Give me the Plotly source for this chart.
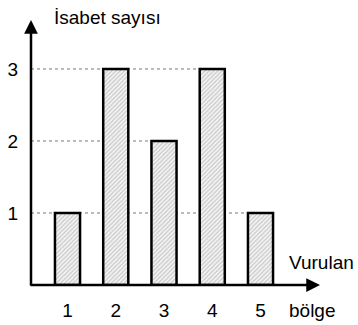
import plotly.graph_objects as go

regions = [1, 2, 3, 4, 5]
hits = [1, 3, 2, 3, 1]
y_ticks = [1, 2, 3]
y_title = "İsabet sayısı"
x_title_1 = "Vurulan"
x_title_2 = "bölge"

BAR_W = 0.52
FONT = "Liberation Sans, Arial, sans-serif"
FS = 19
X_RANGE = [0.2435, 6.233]
Y_RANGE = [0, 3.68]

fig = go.Figure()
fig.add_trace(go.Bar(
    x=regions, y=hits, width=BAR_W,
    marker=dict(color="white",
                line=dict(color="black", width=2.5),
                pattern=dict(shape="/", fgcolor="#9a9a9a", bgcolor="#f4f4f4",
                             size=3, solidity=0.4)),
    hoverinfo="skip", showlegend=False,
))

# dotted guide lines from the y axis to the last bar having that value
for lv in y_ticks:
    idx = max(i for i, v in enumerate(hits) if v == lv)
    fig.add_shape(type="line", layer="below", x0=X_RANGE[0], x1=regions[idx] - BAR_W / 2,
                  y0=lv, y1=lv, line=dict(color="#777777", width=1, dash="dot"))

# axis arrows
fig.add_annotation(x=1.0, y=0, xref="paper", yref="y", ax=-291, ay=0,
                   showarrow=True, arrowhead=2,
                   arrowsize=1.1, arrowwidth=2.5, arrowcolor="black", text="")
fig.add_annotation(x=0, y=1.0, xref="paper", yref="paper", ax=0, ay=267,
                   showarrow=True, arrowhead=2, arrowsize=1.1, arrowwidth=2.5,
                   arrowcolor="black", text="")

fig.add_annotation(x=0.072, y=1.009, xref="paper", yref="paper", text=y_title,
                   showarrow=False, xanchor="left", yanchor="middle",
                   font=dict(size=FS, family=FONT, color="black"))
fig.add_annotation(x=0.886, y=0.085, xref="paper", yref="paper", text=x_title_1,
                   showarrow=False, xanchor="left", yanchor="middle",
                   font=dict(size=FS, family=FONT, color="black"))
fig.add_annotation(x=0.886, y=-0.095, xref="paper", yref="paper", text=x_title_2,
                   showarrow=False, xanchor="left", yanchor="middle",
                   font=dict(size=FS, family=FONT, color="black"))

fig.update_layout(
    width=358, height=325,
    margin=dict(l=31, r=38, t=20, b=40, autoexpand=False),
    paper_bgcolor="white", plot_bgcolor="white",
    font=dict(family=FONT, size=FS, color="black"),
    xaxis=dict(range=X_RANGE, tickvals=regions, ticktext=[str(r) for r in regions],
               showgrid=False, zeroline=False, showline=False, ticks="",
               ticklabelstandoff=12, automargin=False),
    yaxis=dict(range=Y_RANGE, tickvals=y_ticks, showgrid=False, zeroline=False,
               showline=False, ticks="", ticklabelstandoff=12, automargin=False),
)

fig.write_html("out.html", config={"displayModeBar": False, "staticPlot": True},
               post_script="document.body.style.margin='0';document.body.style.padding='0';")
